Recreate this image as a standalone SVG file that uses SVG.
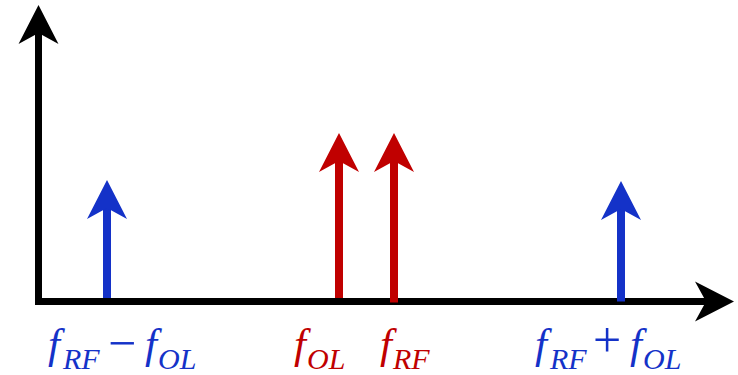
<svg xmlns="http://www.w3.org/2000/svg" width="738" height="375" viewBox="0 0 738 375">
<style>
.f{font-family:"Liberation Serif","Times New Roman",serif;font-style:italic;font-size:43px}
.s{font-family:"Liberation Serif","Times New Roman",serif;font-style:italic;font-size:30px}
.op{font-family:"Liberation Serif","Times New Roman",serif;font-size:50px}
.blue{fill:#1432c8}
.red{fill:#c00000}
</style>
<defs>
<path id="head" d="M0,0 L20,39 L0,28 L-20,39 Z"/>
</defs>
<rect width="738" height="375" fill="#fff"/>
<g id="axes">
<path d="M38.5,30 L38.5,301.5 L712,301.5" fill="none" stroke="#000" stroke-width="7" stroke-linejoin="miter"/>
<use href="#head" transform="translate(38.5,5)" fill="#000"/>
<use href="#head" transform="translate(734,301.5) rotate(90)" fill="#000"/>
</g>
<g id="arrow-diff">
<line x1="107" y1="298" x2="107" y2="205" stroke="#1432c8" stroke-width="8"/>
<use href="#head" transform="translate(107,180)" fill="#1432c8"/>
</g>
<g id="arrow-ol">
<line x1="339" y1="298" x2="339" y2="158" stroke="#c00000" stroke-width="8"/>
<use href="#head" transform="translate(339,133)" fill="#c00000"/>
</g>
<g id="arrow-rf">
<line x1="394" y1="302.5" x2="394" y2="158" stroke="#c00000" stroke-width="8"/>
<use href="#head" transform="translate(394,133)" fill="#c00000"/>
</g>
<g id="arrow-sum">
<line x1="621" y1="301.5" x2="621" y2="206" stroke="#1432c8" stroke-width="8"/>
<use href="#head" transform="translate(621,181)" fill="#1432c8"/>
</g>
<g id="label-diff" class="blue">
<text class="f" x="48" y="358">f</text>
<text class="s" x="63" y="368.5">RF</text>
<text class="op" x="108" y="360">−</text>
<text class="f" x="145" y="358">f</text>
<text class="s" x="158" y="368.5">OL</text>
</g>
<g id="label-ol" class="red">
<text class="f" x="294" y="358">f</text>
<text class="s" x="307" y="368.5">OL</text>
</g>
<g id="label-rf" class="red">
<text class="f" x="380" y="358">f</text>
<text class="s" x="393" y="368.5">RF</text>
</g>
<g id="label-sum" class="blue">
<text class="f" x="535" y="358">f</text>
<text class="s" x="550" y="368.5">RF</text>
<text class="op" x="593" y="357">+</text>
<text class="f" x="630" y="358">f</text>
<text class="s" x="643" y="368.5">OL</text>
</g>
</svg>
